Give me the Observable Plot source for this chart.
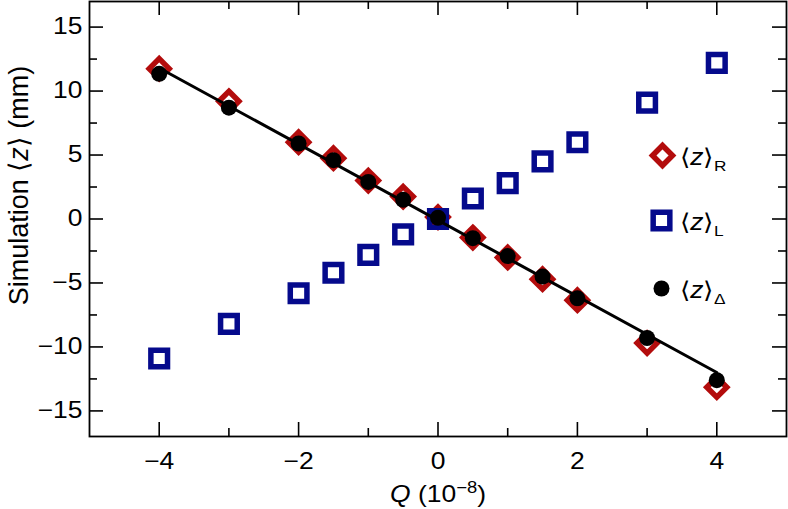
<!DOCTYPE html>
<html>
<head>
<meta charset="utf-8">
<script src="https://cdn.jsdelivr.net/npm/d3@7"></script>
<script src="https://cdn.jsdelivr.net/npm/@observablehq/plot@0.6"></script>
<style>
  html, body { margin: 0; padding: 0; background: white; }
</style>
</head>
<body>
<div id="chart"></div>
<script>
// ---- data ----
const Q  = [-4, -3, -2, -1.5, -1, -0.5, 0, 0.5, 1, 1.5, 2, 3, 4];
const zR = [11.75, 9.2, 6.0, 4.75, 3.0, 1.75, 0.15, -1.45, -3.0, -4.7, -6.35, -9.7, -13.15];
const zL = [-10.9, -8.2, -5.8, -4.2, -2.8, -1.2, 0.0, 1.6, 2.8, 4.5, 6.0, 9.1, 12.2];
const zD = [11.35, 8.7, 5.9, 4.6, 2.9, 1.5, 0.1, -1.5, -2.9, -4.5, -6.2, -9.3, -12.6];
const fitQ = [-4, 4];
const fitZ = [11.8, -12.0];

const majorX = [-4, -2, 0, 2, 4];
const minorX = [-3, -1, 1, 3];
const majorY = [-15, -10, -5, 0, 5, 10, 15];
const minorY = [-12.5, -7.5, -2.5, 2.5, 7.5, 12.5];

const legendKeys = ["R", "L", "Δ"];

// ---- styles ----
const RED = "#b30c0c";
const BLUE = "#050a8c";
const W = 788, H = 509;
const mL = 89, mR = 2, mT = 1, mB = 73;
const fw = W - mL - mR, fh = H - mT - mB;
const STRETCH = 1.15; // glyphs in the reference are horizontally widened
const FS = 23;

const pts = Q.map((q, i) => ({q, r: zR[i], l: zL[i], d: zD[i]}));
const fit = fitQ.map((q, i) => ({q, z: fitZ[i]}));
const fmt = d => (d < 0 ? "\u2212" + Math.abs(d) : String(d));

const chart = Plot.plot({
  width: W, height: H,
  marginLeft: mL, marginRight: mR, marginTop: mT, marginBottom: mB,
  x: {domain: [-5, 5]},
  y: {domain: [-17, 17]},
  style: {fontFamily: "'Liberation Sans', Arial, sans-serif", fontSize: FS + "px", background: "white", color: "black"},
  marks: [
    // tick labels
    Plot.axisX(majorX, {anchor: "bottom", tickSize: 0, tickPadding: 16, tickFormat: fmt, label: null, fontSize: FS}),
    Plot.axisY(majorY, {anchor: "left", tickSize: 0, tickPadding: 7, tickFormat: fmt, label: null, fontSize: FS}),
    // inward ticks
    Plot.tickX(majorX, {x: d => d, insetTop: fh - 14, stroke: "black", strokeWidth: 1.6}),
    Plot.tickX(minorX, {x: d => d, insetTop: fh - 8, stroke: "black", strokeWidth: 1.6}),
    Plot.tickX(majorX, {x: d => d, insetBottom: fh - 14, stroke: "black", strokeWidth: 1.6}),
    Plot.tickX(minorX, {x: d => d, insetBottom: fh - 8, stroke: "black", strokeWidth: 1.6}),
    Plot.tickY(majorY, {y: d => d, insetRight: fw - 14, stroke: "black", strokeWidth: 1.6}),
    Plot.tickY(minorY, {y: d => d, insetRight: fw - 8, stroke: "black", strokeWidth: 1.6}),
    Plot.tickY(majorY, {y: d => d, insetLeft: fw - 14, stroke: "black", strokeWidth: 1.6}),
    Plot.tickY(minorY, {y: d => d, insetLeft: fw - 8, stroke: "black", strokeWidth: 1.6}),
    Plot.frame({stroke: "black", strokeWidth: 1.8}),
    // data
    Plot.dot(pts, {x: "q", y: "r", symbol: "diamond2", r: 9, stroke: RED, strokeWidth: 5.5, fill: "none"}),
    Plot.dot(pts, {x: "q", y: "l", symbol: "square2", r: 10.6, stroke: BLUE, strokeWidth: 5.5, fill: "none"}),
    Plot.line(fit, {x: "q", y: "z", stroke: "black", strokeWidth: 3}),
    Plot.dot(pts, {x: "q", y: "d", r: 8, fill: "black", stroke: "none"}),
    // legend
    Plot.dot([0], {frameAnchor: "top-left", dx: 573, dy: 154, symbol: "diamond2", r: 9, stroke: RED, strokeWidth: 5.5, fill: "none"}),
    Plot.dot([0], {frameAnchor: "top-left", dx: 572, dy: 219, symbol: "square2", r: 10.6, stroke: BLUE, strokeWidth: 5.5, fill: "none"}),
    Plot.dot([0], {frameAnchor: "top-left", dx: 572, dy: 287, r: 8, fill: "black"}),
    Plot.text([legendKeys[0]], {text: d => "LEG_" + d, frameAnchor: "top-left", dx: 590, dy: 156, textAnchor: "start", lineAnchor: "middle", fontSize: FS}),
    Plot.text([legendKeys[1]], {text: d => "LEG_" + d, frameAnchor: "top-left", dx: 590, dy: 221, textAnchor: "start", lineAnchor: "middle", fontSize: FS}),
    Plot.text([legendKeys[2]], {text: d => "LEG_" + d, frameAnchor: "top-left", dx: 590, dy: 289, textAnchor: "start", lineAnchor: "middle", fontSize: FS}),
    // axis titles
    Plot.text(["XLABEL"], {frameAnchor: "bottom", dy: 58, textAnchor: "middle", lineAnchor: "middle", fontSize: FS}),
    Plot.text(["YLABEL"], {frameAnchor: "top-left", dx: -70, dy: 184, rotate: -90, textAnchor: "middle", lineAnchor: "middle", fontSize: 27})
  ]
});

function rich(el, parts) {
  const s = d3.select(el);
  s.selectAll("*").remove();
  s.text(null);
  parts.forEach(p => {
    const ts = s.append("tspan").text(p.t);
    if (p.i) ts.attr("font-style", "italic");
    if (p.s) ts.attr("font-size", p.s);
    if (p.dy) ts.attr("dy", p.dy);
  });
}

d3.select(chart).selectAll("text").each(function () {
  const t = this.textContent;
  if (t.startsWith("LEG_")) {
    const k = t.slice(4);
    rich(this, [{t: "\u27E8"}, {t: "z", i: true}, {t: "\u27E9"}, {t: k, s: 15, dy: 6}]);
  } else if (t === "XLABEL") {
    rich(this, [{t: "Q", i: true}, {t: " (10"}, {t: "\u22128", s: 16, dy: -9}, {t: ")", dy: 9}]);
  } else if (t === "YLABEL") {
    rich(this, [{t: "Simulation \u27E8"}, {t: "z", i: true}, {t: "\u27E9 (mm)"}]);
  }
  // horizontal widening of glyphs, as in the reference
  let tr = this.getAttribute("transform");
  if (tr == null) {
    const x = +(this.getAttribute("x") || 0), y = +(this.getAttribute("y") || 0);
    this.setAttribute("x", 0); this.setAttribute("y", 0);
    tr = `translate(${x},${y})`;
  }
  if (!tr.includes("rotate")) this.setAttribute("transform", tr + ` scale(${STRETCH},1)`);
});

document.getElementById("chart").appendChild(chart);
</script>
</body>
</html>
